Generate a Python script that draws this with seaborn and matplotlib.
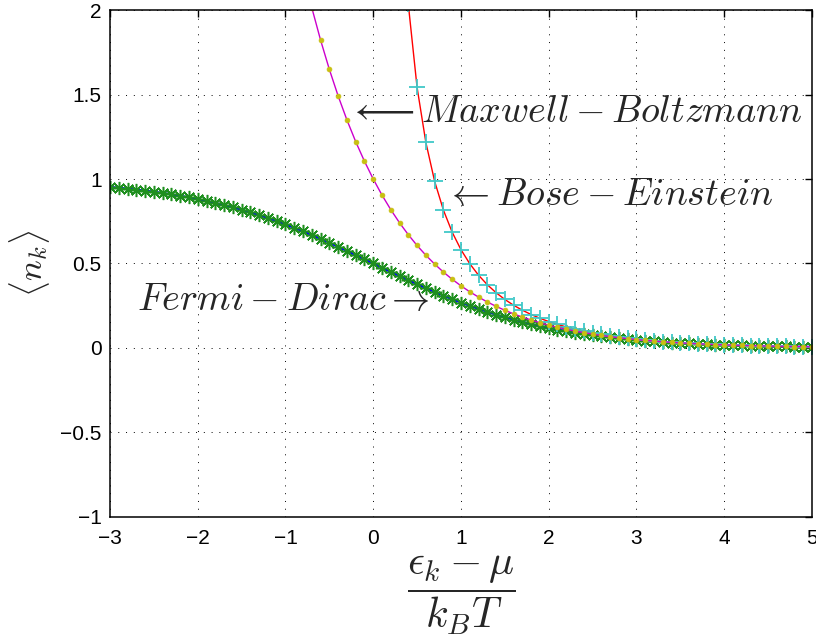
import matplotlib
matplotlib.use("Agg")
import matplotlib.pyplot as plt
import seaborn as sns

# reduced energy (eps_k - mu) / kT, sampled every 0.1
x_vals = [-3.0, -2.9, -2.8, -2.7, -2.6, -2.5, -2.4, -2.3, -2.2, -2.1,
          -2.0, -1.9, -1.8, -1.7, -1.6, -1.5, -1.4, -1.3, -1.2, -1.1,
          -1.0, -0.9, -0.8, -0.7, -0.6, -0.5, -0.4, -0.3, -0.2, -0.1,
          0.0, 0.1, 0.2, 0.3, 0.4, 0.5, 0.6, 0.7, 0.8, 0.9,
          1.0, 1.1, 1.2, 1.3, 1.4, 1.5, 1.6, 1.7, 1.8, 1.9,
          2.0, 2.1, 2.2, 2.3, 2.4, 2.5, 2.6, 2.7, 2.8, 2.9,
          3.0, 3.1, 3.2, 3.3, 3.4, 3.5, 3.6, 3.7, 3.8, 3.9,
          4.0, 4.1, 4.2, 4.3, 4.4, 4.5, 4.6, 4.7, 4.8, 4.9, 5.0]

fermi_dirac = [0.9526, 0.9478, 0.9427, 0.9370, 0.9309, 0.9241, 0.9168, 0.9089, 0.9002, 0.8909,
               0.8808, 0.8699, 0.8581, 0.8455, 0.8320, 0.8176, 0.8022, 0.7858, 0.7685, 0.7503,
               0.7311, 0.7109, 0.6900, 0.6682, 0.6457, 0.6225, 0.5987, 0.5744, 0.5498, 0.5250,
               0.5000, 0.4750, 0.4502, 0.4256, 0.4013, 0.3775, 0.3543, 0.3318, 0.3100, 0.2891,
               0.2689, 0.2497, 0.2315, 0.2142, 0.1978, 0.1824, 0.1680, 0.1545, 0.1419, 0.1301,
               0.1192, 0.1091, 0.0998, 0.0911, 0.0832, 0.0759, 0.0691, 0.0630, 0.0573, 0.0522,
               0.0474, 0.0431, 0.0392, 0.0356, 0.0323, 0.0293, 0.0266, 0.0241, 0.0219, 0.0198,
               0.0180, 0.0163, 0.0148, 0.0134, 0.0121, 0.0110, 0.0100, 0.0090, 0.0082, 0.0074, 0.0067]

# visible part only (starts at x = -0.7)
x_mb = x_vals[23:]
maxwell_boltzmann = [2.0138, 1.8221, 1.6487, 1.4918, 1.3499, 1.2214, 1.1052,
                     1.0000, 0.9048, 0.8187, 0.7408, 0.6703, 0.6065, 0.5488, 0.4966, 0.4493, 0.4066,
                     0.3679, 0.3329, 0.3012, 0.2725, 0.2466, 0.2231, 0.2019, 0.1827, 0.1653, 0.1496,
                     0.1353, 0.1225, 0.1108, 0.1003, 0.0907, 0.0821, 0.0743, 0.0672, 0.0608, 0.0550,
                     0.0498, 0.0450, 0.0408, 0.0369, 0.0334, 0.0302, 0.0273, 0.0247, 0.0224, 0.0202,
                     0.0183, 0.0166, 0.0150, 0.0136, 0.0123, 0.0111, 0.0101, 0.0091, 0.0082, 0.0074, 0.0067]

# visible part only (starts at x = 0.4)
x_be = x_vals[34:]
bose_einstein = [2.0333, 1.5415, 1.2164, 0.9864, 0.8160, 0.6851,
                 0.5820, 0.4990, 0.4310, 0.3746, 0.3273, 0.2872, 0.2530, 0.2235, 0.1980, 0.1759,
                 0.1565, 0.1395, 0.1246, 0.1114, 0.0998, 0.0894, 0.0802, 0.0720, 0.0647, 0.0582,
                 0.0524, 0.0472, 0.0425, 0.0383, 0.0345, 0.0311, 0.0281, 0.0253, 0.0229, 0.0207,
                 0.0187, 0.0169, 0.0152, 0.0137, 0.0124, 0.0112, 0.0101, 0.0092, 0.0083, 0.0075, 0.0068]

xticks = [-3, -2, -1, 0, 1, 2, 3, 4, 5]
yticks = [-1, -0.5, 0, 0.5, 1, 1.5, 2]
yticklabels = ["\u22121", "\u22120.5", "0", "0.5", "1", "1.5", "2"]
xticklabels = ["\u22123", "\u22122", "\u22121", "0", "1", "2", "3", "4", "5"]

sns.set_style("white")
plt.rcParams['font.family'] = ['Liberation Sans', 'DejaVu Sans']
plt.rcParams['mathtext.fontset'] = 'cm'

fig = plt.figure(figsize=(8.16, 6.38), dpi=100)
ax = fig.add_axes([0.1348, 0.1897, 0.8602, 0.7946])

# Fermi-Dirac: blue line + green asterisks
sns.lineplot(x=x_vals, y=fermi_dirac, ax=ax, color='#0000ff', lw=1.6,
             estimator=None, sort=False)
sns.lineplot(x=x_vals, y=fermi_dirac, ax=ax, color='#1a8c1a', linestyle='none',
             marker=(8, 2, 0), markersize=9.5, markeredgecolor='#1f8f1f',
             markeredgewidth=1.1, estimator=None, sort=False)
# Bose-Einstein: red line + cyan plus
sns.lineplot(x=x_be, y=bose_einstein, ax=ax, color='#ff0000', lw=1.0,
             estimator=None, sort=False)
sns.lineplot(x=x_be, y=bose_einstein, ax=ax, color='#40c8c8', linestyle='none',
             marker='+', markersize=11, markeredgecolor='#40c8c8',
             markeredgewidth=1.3, estimator=None, sort=False)
# Maxwell-Boltzmann: magenta line + yellow dots
sns.lineplot(x=x_mb, y=maxwell_boltzmann, ax=ax, color='#cc00cc', lw=1.0,
             estimator=None, sort=False)
sns.lineplot(x=x_mb, y=maxwell_boltzmann, ax=ax, color='#c8c010', linestyle='none',
             marker='o', markersize=3.5, markeredgecolor='#c8c010',
             markeredgewidth=0.5, estimator=None, sort=False)

ax.set_xlim(-3, 5)
ax.set_ylim(-1, 2)
ax.set_xticks(xticks)
ax.set_xticklabels(xticklabels)
ax.set_yticks(yticks)
ax.set_yticklabels(yticklabels)
ax.tick_params(direction='in', length=5, width=1, top=True, right=True,
               labelsize=15, colors='black')
ax.tick_params(axis='x', pad=9)
ax.tick_params(axis='y', pad=6)
ax.grid(True, color='black', linestyle=(0, (1, 7)), linewidth=0.7)
for sp in ax.spines.values():
    sp.set_color('black')
    sp.set_linewidth(1.1)

ax.text(-0.29, 1.337, r'$\longleftarrow Maxwell-Boltzmann$', fontsize=27.5,
        ha='left', va='baseline')
ax.text(0.82, 0.846, r'$\leftarrow Bose-Einstein$', fontsize=27.5,
        ha='left', va='baseline')
ax.text(-2.69, 0.225, r'$Fermi-Dirac \rightarrow$', fontsize=27.5,
        ha='left', va='baseline')

ax.set_xlabel(r'$\dfrac{\epsilon_k-\mu}{k_BT}$', fontsize=30, labelpad=4)
ax.set_ylabel(r'$\langle n_k \rangle$', fontsize=25, labelpad=6)

fig.savefig('out.png', dpi=100)
